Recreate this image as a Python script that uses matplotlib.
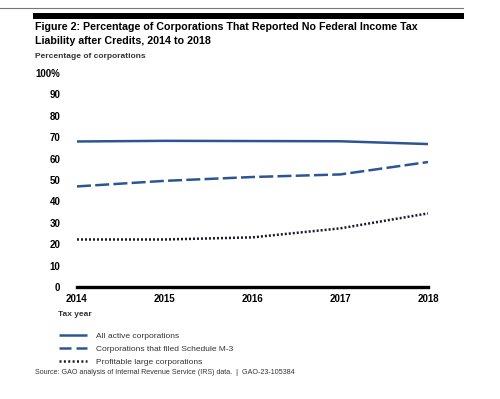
"""
GAO figure: share of corporations reporting no federal income tax liability.
"""
import matplotlib.pyplot as plt
from matplotlib.patches import Rectangle
from matplotlib.lines import Line2D

plt.rcParams["font.family"] = ["Liberation Sans", "DejaVu Sans"]

years = [2014, 2015, 2016, 2017, 2018]
all_active = [68.0, 68.3, 68.2, 68.1, 66.8]
schedule_m3 = [47.0, 49.6, 51.4, 52.6, 58.4]
profitable_large = [22.2, 22.2, 23.2, 27.4, 34.4]
series_labels = [
    "All active corporations",
    "Corporations that filed Schedule M-3",
    "Profitable large corporations",
]
yticks = [0, 10, 20, 30, 40, 50, 60, 70, 80, 90, 100]
ytick_labels = ["0", "10", "20", "30", "40", "50", "60", "70", "80", "90", "100%"]

BLUE = "#2d5595"
DARK = "#1a1a2a"
W, H = 500, 399

fig = plt.figure(figsize=(W / 100, H / 100), dpi=100)

# header rules
fig.add_artist(Line2D([0, 463 / W], [1 - 8 / H] * 2, color="#777777", lw=0.8))
fig.add_artist(Rectangle((33 / W, 1 - 19 / H), (464 - 33) / W, 6 / H,
                         color="black", lw=0))

title_lines = [
    "Figure 2: Percentage of Corporations That Reported No Federal Income Tax",
    "Liability after Credits, 2014 to 2018",
]
for i, line in enumerate(title_lines):
    fig.text(35 / W, 1 - (27 + 14 * i) / H, line, fontsize=7.7,
             fontweight="bold", va="center", ha="left")
fig.text(35 / W, 1 - 57 / H, "Percentage of corporations",
         fontsize=6.0, fontweight="bold", color="#333333", va="center")

ax = fig.add_axes([77 / W, 1 - 287 / H, (428 - 77) / W, (287 - 73) / H])

ax.plot(years, all_active, color=BLUE, lw=1.8, solid_capstyle="butt",
        clip_on=False)
ax.plot(years, schedule_m3, color=BLUE, lw=1.8, dashes=(5.6, 1.7),
        clip_on=False)
ax.plot(years, profitable_large, color=DARK, lw=1.8, dashes=(0.8, 0.8),
        clip_on=False)
ax.axhline(0, color="black", lw=2.4, clip_on=False)

ax.set_xlim(2014, 2018)
ax.set_ylim(0, 100)
ax.set_xticks(years)
ax.set_xticklabels([str(y) for y in years], fontsize=7, fontweight="bold")
ax.set_yticks(yticks)
ax.set_yticklabels(ytick_labels, fontsize=7, fontweight="bold")
ax.tick_params(length=0)
ax.tick_params(axis="y", pad=12)
ax.tick_params(axis="x", pad=5)
for s in ax.spines.values():
    s.set_visible(False)

fig.text(58 / W, 1 - 314 / H, "Tax year", fontsize=6.0, fontweight="bold",
         color="#333333", va="center")

# legend swatches drawn with their own dash patterns
handles = [
    Line2D([], [], color=BLUE, lw=1.8, solid_capstyle="butt"),
    Line2D([], [], color=BLUE, lw=1.8, dashes=(4.8, 2.0)),
    Line2D([], [], color=DARK, lw=1.8, dashes=(0.8, 0.95)),
]
ax.legend(handles, series_labels, loc="upper left",
          bbox_to_anchor=(59 / W, 1 - 332 / H),
          bbox_transform=fig.transFigure, frameon=False, fontsize=6.0,
          handlelength=3.4, handletextpad=1.0, labelspacing=0.62,
          borderaxespad=0, borderpad=0, labelcolor="#333333")

fig.text(35 / W, 1 - 373 / H,
         "Source: GAO analysis of Internal Revenue Service (IRS) data.  |  GAO-23-105384",
         fontsize=5.1, color="#333333", va="center")

fig.savefig("out.png", dpi=100)
